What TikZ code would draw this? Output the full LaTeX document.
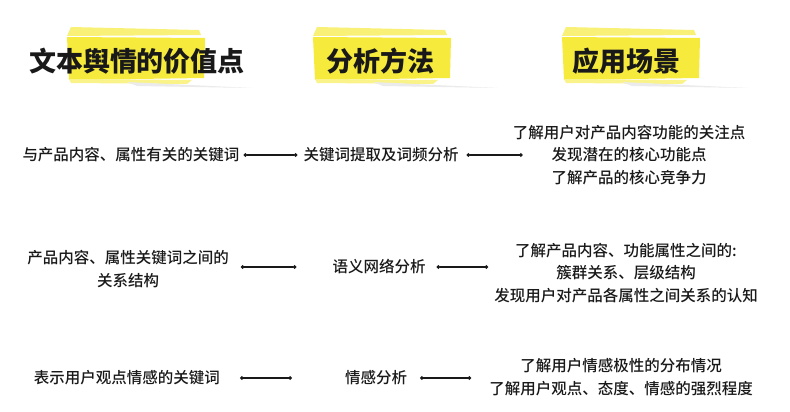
\documentclass[tikz,border=0pt]{standalone}
\usepackage{fontspec}
\setmainfont{Noto Sans CJK SC}[UprightFont=* Medium, BoldFont=* Black]
\usetikzlibrary{arrows.meta}
\definecolor{hl}{RGB}{246,235,60}
\definecolor{ink}{RGB}{25,25,25}

\begin{document}
\begin{tikzpicture}[x=1pt,y=-1pt,
  every node/.style={text=ink, font=\fontsize{15.5}{22.5}\selectfont, align=center, inner sep=0pt},
  title/.style={font=\fontsize{27}{30}\selectfont\bfseries},
  link/.style={draw=ink, line width=1.3pt, {Circle[length=3.5pt]}-{Circle[length=3.5pt]}}]
\useasboundingbox[fill=white] (0,0) rectangle (790,412);
% brush strokes behind the titles
\foreach \x in {67,313,562} {
  \fill[hl!70] (\x+4,27) -- (\x+132,30) -- (\x+134,35) -- (\x,36) -- cycle;
  \fill[hl] (\x,37) -- (\x+138,38) -- (\x+137,78) -- (\x+2,80) -- cycle;
  \fill[hl!60] (\x+2,79) -- (\x+125,80) -- (\x+120,84) -- (\x+4,83) -- cycle;
  \fill[black!8] (\x+60,82) -- (\x+185,88) -- (\x+70,86) -- cycle;
}
\node[title] (t1) at (137,61) {文本舆情的价值点};
\node[title] (t2) at (380,61) {分析方法};
\node[title] (t3) at (626,61) {应用场景};

\node (l1) at (131,155) {与产品内容、属性有关的关键词};
\node (m1) at (381,155) {关键词提取及词频分析};
\node (r1) at (629,155) {了解用户对产品内容功能的关注点\\发现潜在的核心功能点\\了解产品的核心竞争力};

\node (l2) at (128,269) {产品内容、属性关键词之间的\\关系结构};
\node (m2) at (379,267) {语义网络分析};
\node (r2) at (626,273) {了解产品内容、功能属性之间的:\\簇群关系、层级结构\\发现用户对产品各属性之间关系的认知};

\node (l3) at (127,378) {表示用户观点情感的关键词};
\node (m3) at (376,378) {情感分析};
\node (r3) at (621,377) {了解用户情感极性的分布情况\\了解用户观点、态度、情感的强烈程度};

\draw[link] ([xshift=4pt]l1.east) -- ([xshift=-6pt]m1.west);
\draw[link] ([xshift=8pt]m1.east) -- ([xshift=10pt]r1.west |- m1);
\draw[link] ([xshift=12pt]l2.east |- m2) -- ([xshift=-36pt]m2.west);
\draw[link] ([xshift=11pt]m2.east) -- ([xshift=-6pt]r2.west |- m2);
\draw[link] ([xshift=20pt]l3.east) -- ([xshift=-53pt]m3.west);
\draw[link] ([xshift=13pt]m3.east) -- ([xshift=-18pt]r3.west |- m3);
\end{tikzpicture}
\end{document}
